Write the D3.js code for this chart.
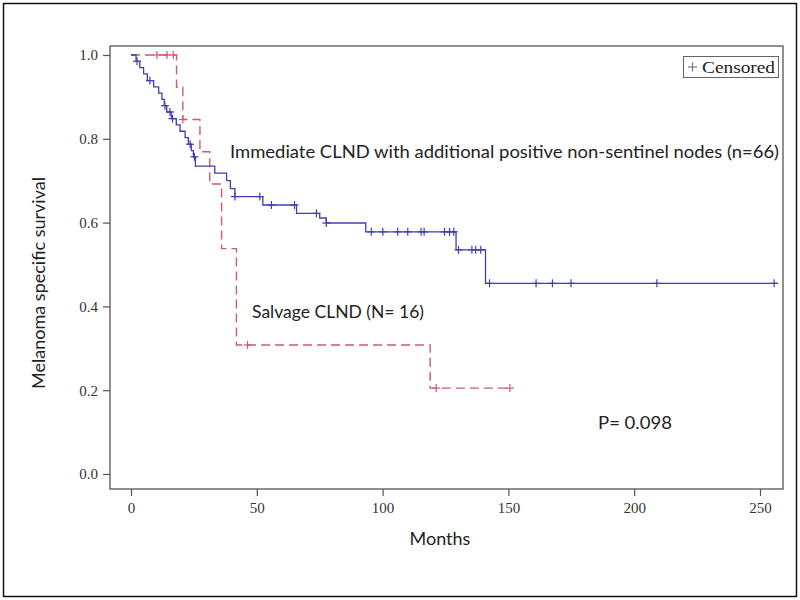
<!DOCTYPE html>
<html><head><meta charset="utf-8">
<script src="https://cdn.jsdelivr.net/npm/d3@7/dist/d3.min.js"></script>
<style>body{margin:0;background:#fff}</style>
</head><body>
<script>
// ---- data ----
const xTicks = [0, 50, 100, 150, 200, 250];
const yTicks = [0.0, 0.2, 0.4, 0.6, 0.8, 1.0];
// Immediate CLND (n=66): step times and survival after each step
const immTimes = [0, 2.0, 3.5, 5, 6.5, 9, 11, 12.3, 13.2, 14.2, 16, 18, 19.5, 21.5, 22.8, 24, 24.8, 25.6, 33.3, 38, 39.5, 41.3, 52.4, 65.8, 75, 77.6, 93.3, 129.2, 140.9];
const immSurv  = [1.0, 0.985, 0.970, 0.955, 0.939, 0.924, 0.909, 0.894, 0.879, 0.864, 0.848, 0.833, 0.818, 0.803, 0.787, 0.772, 0.757, 0.735, 0.718, 0.700, 0.681, 0.662, 0.642, 0.622, 0.611, 0.599, 0.578, 0.535, 0.455];
const immEnd = 257;
const immCensored = [2.4, 7.5, 13.5, 15.5, 16.5, 23.5, 25.2, 41.3, 51.2, 55.8, 65, 73.7, 77.6, 95.5, 100.1, 106, 110, 115.3, 116.5, 124.6, 126.6, 128.3, 130.2, 135.5, 137, 139, 142.5, 161, 167.5, 174.9, 209, 255.6];
// Salvage CLND (N=16)
const salTimes = [0, 18.1, 20.6, 27.4, 31.3, 36, 41.9, 118.9];
const salSurv  = [1.0, 0.923, 0.846, 0.769, 0.692, 0.538, 0.308, 0.205];
const salEnd = 151.2;
const salCensored = [10.3, 14.3, 16.8, 20.6, 46.3, 121.3, 150.6];

const labels = {
  imm: "Immediate CLND with additional positive non-sentinel nodes (n=66)",
  sal: "Salvage CLND (N= 16)",
  p: "P= 0.098",
  xTitle: "Months",
  yTitle: "Melanoma specific survival",
  legend: "Censored"
};

const W = 800, H = 600;
const svg = d3.select("body").append("svg").attr("width", W).attr("height", H);
svg.append("rect").attr("x", 3.5).attr("y", 3.5).attr("width", 793).attr("height", 593)
  .attr("fill", "#fff").attr("stroke", "#111").attr("stroke-width", 1.5);

const frame = {l: 110, r: 783, t: 46, b: 489};
const x = d3.scaleLinear().domain([0, 250]).range([131, 760]);
const y = d3.scaleLinear().domain([0, 1]).range([474, 55]);

// frame
svg.append("rect").attr("x", frame.l).attr("y", frame.t).attr("width", frame.r - frame.l).attr("height", frame.b - frame.t)
  .attr("fill", "none").attr("stroke", "#555").attr("stroke-width", 1.3);

// axes
const xAxis = svg.append("g").attr("transform", `translate(0,${frame.b})`)
  .call(d3.axisBottom(x).tickValues(xTicks).tickSize(7).tickPadding(6).tickFormat(d3.format("d")));
const yAxis = svg.append("g").attr("transform", `translate(${frame.l},0)`)
  .call(d3.axisLeft(y).tickValues(yTicks).tickSize(7).tickPadding(5).tickFormat(d3.format(".1f")));
[xAxis, yAxis].forEach(g => {
  g.select(".domain").remove();
  g.selectAll(".tick line").attr("stroke", "#555").attr("stroke-width", 1.2);
  g.selectAll(".tick text").attr("font-family", "Liberation Serif, serif").attr("font-size", 15).attr("fill", "#333");
});

// step path
function stepLine(times, surv, end) {
  const pts = times.map((t, i) => [t, surv[i]]);
  pts.push([end, surv[surv.length - 1]]);
  return d3.line().x(d => x(d[0])).y(d => y(d[1])).curve(d3.curveStepAfter)(pts);
}
function survAt(times, surv, t) {
  let s = surv[0];
  for (let i = 0; i < times.length; i++) if (times[i] <= t) s = surv[i];
  return s;
}
const blue = "#4040b0", red = "#cc5a78";

svg.append("path").attr("d", stepLine(salTimes, salSurv, salEnd))
  .attr("fill", "none").attr("stroke", red).attr("stroke-width", 1.4).attr("stroke-dasharray", "9,5");
svg.append("path").attr("d", stepLine(immTimes, immSurv, immEnd))
  .attr("fill", "none").attr("stroke", blue).attr("stroke-width", 1.3);

function marks(times, surv, cens, color) {
  const g = svg.append("g").attr("stroke", color).attr("stroke-width", 1.2);
  cens.forEach(t => {
    const cx = x(t), cy = y(survAt(times, surv, t));
    g.append("line").attr("x1", cx - 4).attr("x2", cx + 4).attr("y1", cy).attr("y2", cy);
    g.append("line").attr("x1", cx).attr("x2", cx).attr("y1", cy - 4).attr("y2", cy + 4);
  });
}
marks(salTimes, salSurv, salCensored, red);
marks(immTimes, immSurv, immCensored, blue);

// annotations
const sans = "Lato, 'Open Sans', sans-serif";
function txt(xp, yp, s, size, len) {
  const t = svg.append("text").attr("x", xp).attr("y", yp).attr("font-family", sans).attr("font-size", size).attr("fill", "#222").text(s);
  if (len) t.attr("textLength", len).attr("lengthAdjust", "spacingAndGlyphs");
  return t;
}
txt(230, 158, labels.imm, 18, 549);
txt(252, 318, labels.sal, 18, 172);
txt(598, 429, labels.p, 18, 74);
txt(440, 545, labels.xTitle, 18).attr("text-anchor", "middle");
svg.append("text").attr("transform", "translate(45,283) rotate(-90)").attr("text-anchor", "middle")
  .attr("font-family", sans).attr("font-size", 18).attr("fill", "#222").text(labels.yTitle);

// legend
svg.append("rect").attr("x", 683.5).attr("y", 56.5).attr("width", 95).attr("height", 21).attr("fill", "none").attr("stroke", "#666").attr("stroke-width", 1);
svg.append("line").attr("x1", 688).attr("x2", 697).attr("y1", 67).attr("y2", 67).attr("stroke", "#777").attr("stroke-width", 1.2);
svg.append("line").attr("x1", 692.5).attr("x2", 692.5).attr("y1", 62.5).attr("y2", 71.5).attr("stroke", "#777").attr("stroke-width", 1.2);
svg.append("text").attr("x", 702).attr("y", 73).attr("font-family", "Liberation Serif, serif").attr("font-size", 16)
  .attr("fill", "#222").attr("textLength", 73).attr("lengthAdjust", "spacingAndGlyphs").text(labels.legend);
</script>
</body></html>
